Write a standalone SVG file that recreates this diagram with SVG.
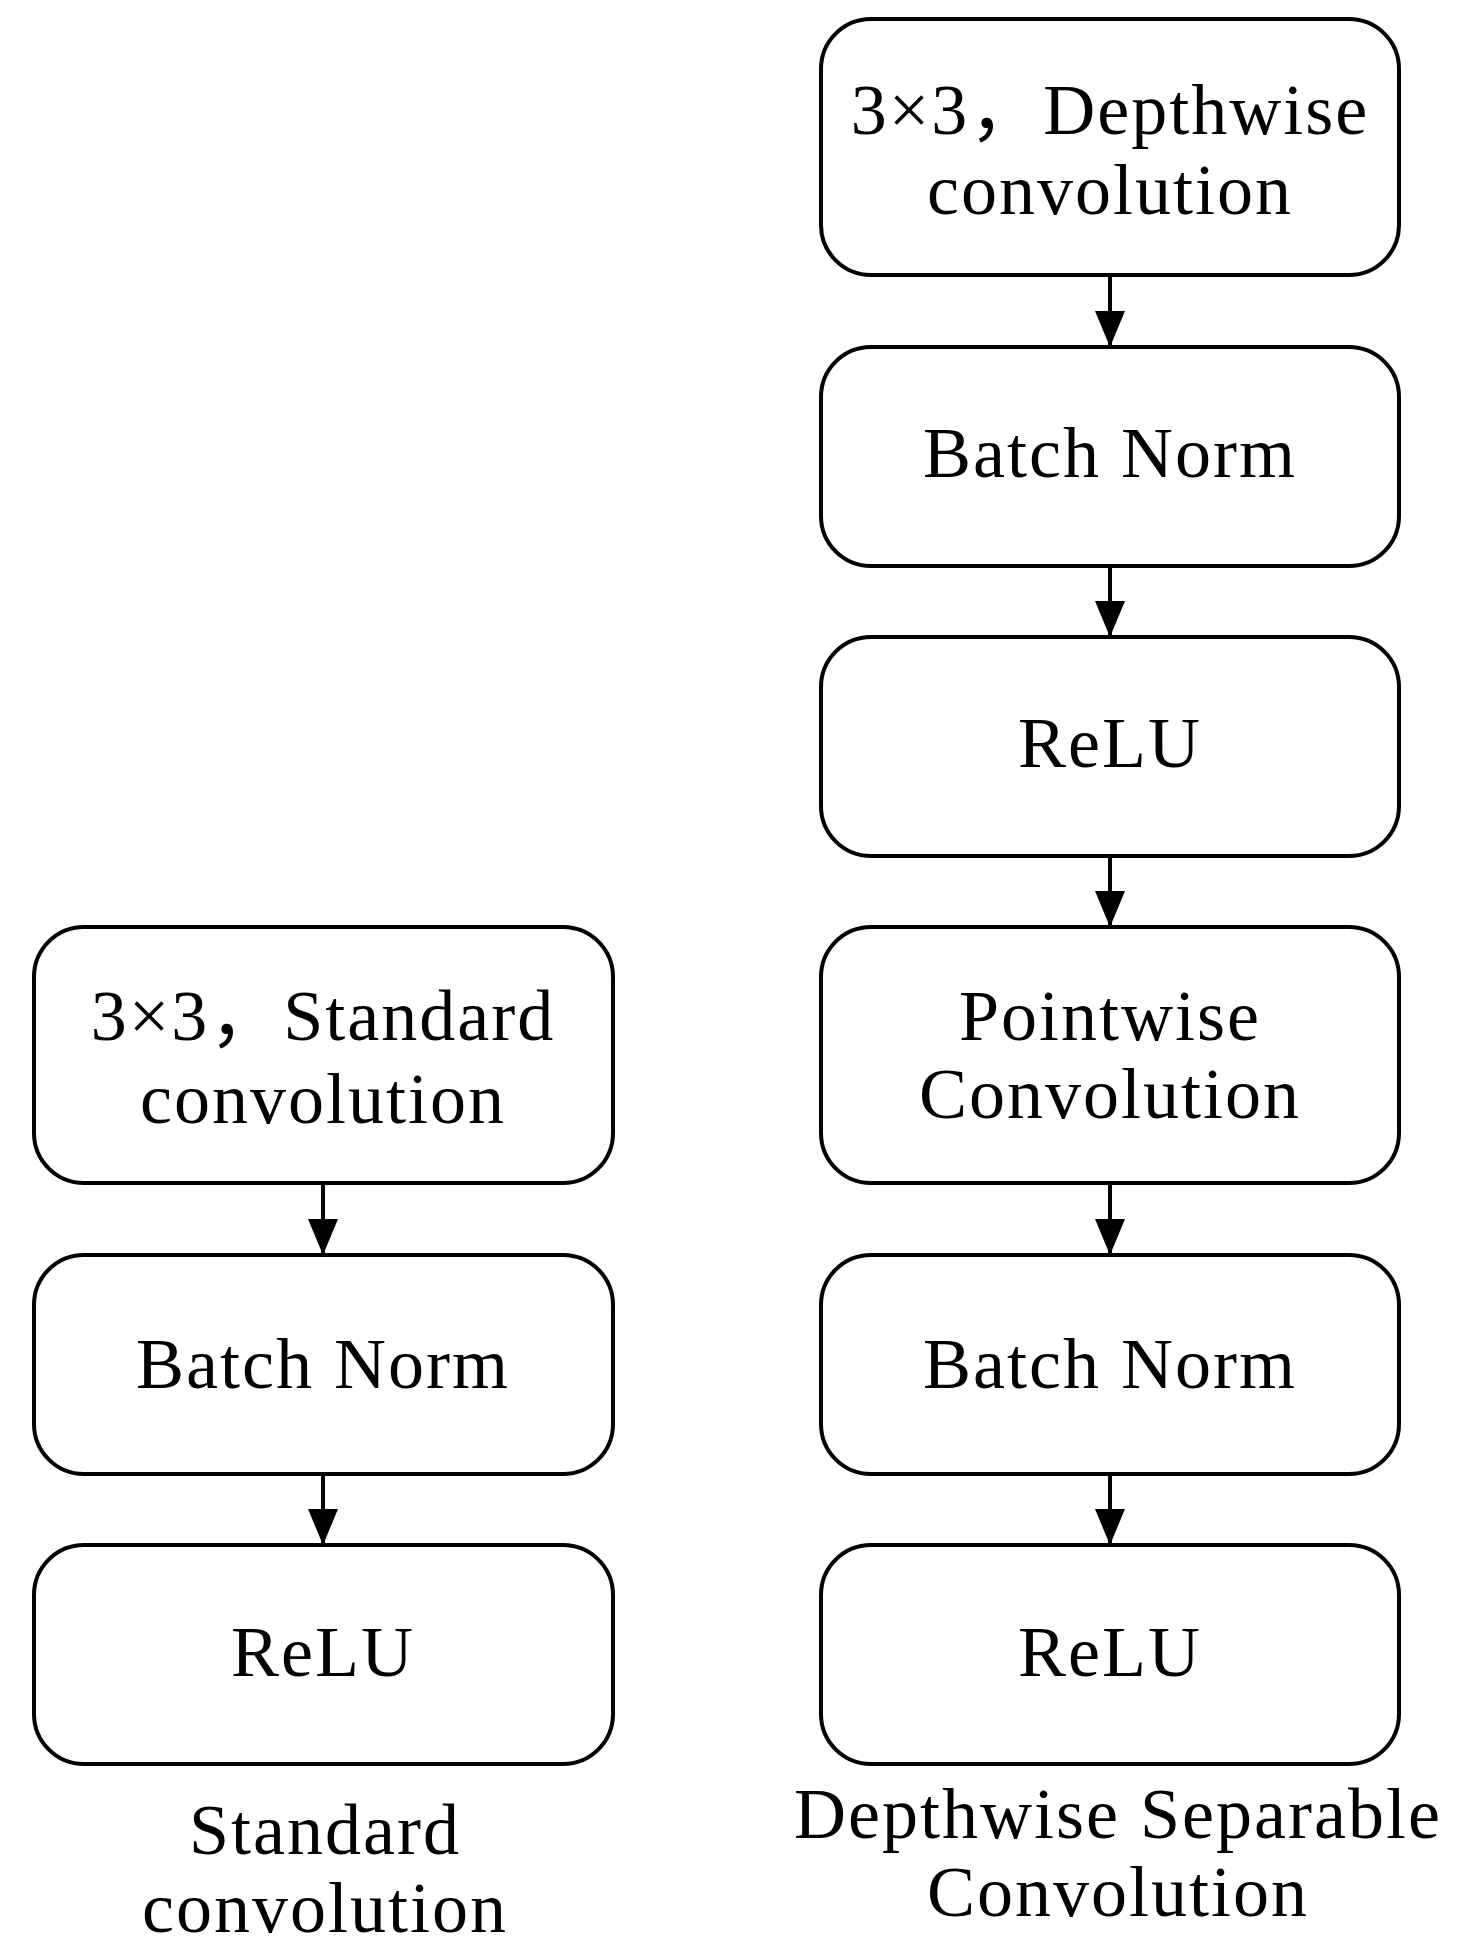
<svg xmlns="http://www.w3.org/2000/svg" width="1465" height="1957" viewBox="0 0 1465 1957">
<style>
.box{fill:#fff;stroke:#000;stroke-width:4}
.t{font-family:"Liberation Serif","Noto Sans CJK SC",serif;font-size:72px;letter-spacing:2px;text-anchor:middle;dominant-baseline:central;fill:#000}
.c{stroke:#000;stroke-width:4;fill:none}
</style>
<defs>
<marker id="ah" viewBox="0 0 36 30" refX="36" refY="15" markerWidth="36" markerHeight="30" orient="auto" markerUnits="userSpaceOnUse"><path d="M0,0 L36,15 L0,30 z" fill="#000"/></marker></defs>
<g id="r1"><rect class="box" x="821" y="19" width="578" height="256" rx="50"/><text class="t" x="1110" y="110">3×3，Depthwise</text><text class="t" x="1110" y="190">convolution</text></g>
<g id="r2"><rect class="box" x="821" y="347" width="578" height="219" rx="50"/><text class="t" x="1110" y="453">Batch Norm</text></g>
<g id="r3"><rect class="box" x="821" y="637" width="578" height="219" rx="50"/><text class="t" x="1110" y="743">ReLU</text></g>
<g id="r4"><rect class="box" x="821" y="927" width="578" height="256" rx="50"/><text class="t" x="1110" y="1016">Pointwise</text><text class="t" x="1110" y="1094">Convolution</text></g>
<g id="r5"><rect class="box" x="821" y="1255" width="578" height="219" rx="50"/><text class="t" x="1110" y="1364">Batch Norm</text></g>
<g id="r6"><rect class="box" x="821" y="1545" width="578" height="219" rx="50"/><text class="t" x="1110" y="1652">ReLU</text></g>
<g id="l1"><rect class="box" x="34" y="927" width="579" height="256" rx="50"/><text class="t" x="323" y="1016">3×3，Standard</text><text class="t" x="323" y="1099">convolution</text></g>
<g id="l2"><rect class="box" x="34" y="1255" width="579" height="219" rx="50"/><text class="t" x="323" y="1364">Batch Norm</text></g>
<g id="l3"><rect class="box" x="34" y="1545" width="579" height="219" rx="50"/><text class="t" x="323" y="1652">ReLU</text></g>
<g id="captions"><text class="t" x="325" y="1830">Standard</text><text class="t" x="325" y="1908">convolution</text><text class="t" x="1118" y="1814">Depthwise Separable</text><text class="t" x="1118" y="1892">Convolution</text></g>
<g id="connectors">
<line class="c" x1="1110" y1="275" x2="1110" y2="347" marker-end="url(#ah)"/>
<line class="c" x1="1110" y1="566" x2="1110" y2="637" marker-end="url(#ah)"/>
<line class="c" x1="1110" y1="856" x2="1110" y2="927" marker-end="url(#ah)"/>
<line class="c" x1="1110" y1="1183" x2="1110" y2="1255" marker-end="url(#ah)"/>
<line class="c" x1="1110" y1="1474" x2="1110" y2="1545" marker-end="url(#ah)"/>
<line class="c" x1="323" y1="1183" x2="323" y2="1255" marker-end="url(#ah)"/>
<line class="c" x1="323" y1="1474" x2="323" y2="1545" marker-end="url(#ah)"/>
</g>
</svg>
